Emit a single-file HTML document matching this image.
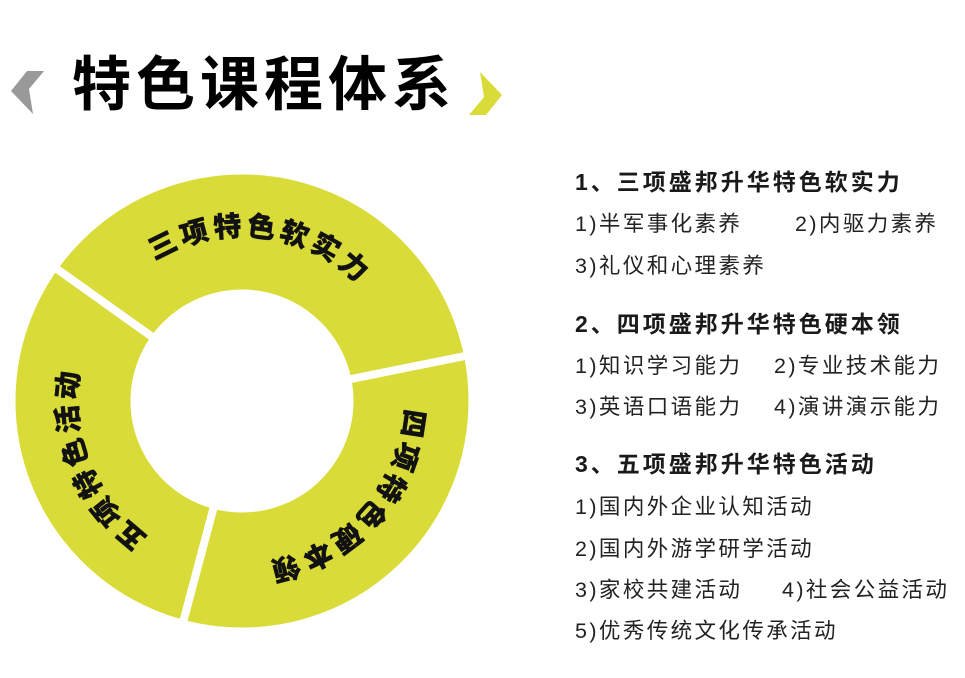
<!DOCTYPE html>
<html><head><meta charset="utf-8"><style>
body{margin:0;width:965px;height:678px;background:#fff;overflow:hidden;position:relative;font-family:"Liberation Sans","Noto Sans CJK SC",sans-serif;color:#1a1a1a}
.t{position:absolute;white-space:nowrap;line-height:1}
.h{font-size:23px;font-weight:bold;letter-spacing:3px}
.b{font-size:21.5px;letter-spacing:2.4px;color:#222}
</style></head><body>
<svg width="965" height="678" style="position:absolute;left:0;top:0">
<polygon points="27,71 44,71 29,89 33,114 11,91" fill="#999"/>
<polygon points="486,115 469,115 484,97 480,72 502,95" fill="#d9dc38"/>
<circle cx="242" cy="401" r="169" fill="none" stroke="#d9dc38" stroke-width="115"/>
<g stroke="#fff" stroke-width="8">
<line x1="242" y1="401" x2="43" y2="259"/>
<line x1="242" y1="401" x2="485" y2="352"/>
<line x1="242" y1="401" x2="177" y2="645"/>
</g>
<circle cx="242" cy="401" r="111" fill="#fff"/>
<defs>
<path id="a1" d="M 78.2 380.9 A 165 165 0 0 1 405.8 421.1"/>
<path id="a2" d="M 352.4 278.4 A 165 165 0 0 1 131.6 523.6"/>
<path id="a3" d="M 303.8 554.0 A 165 165 0 0 1 180.2 248.0"/>
</defs>
<g font-family="'Liberation Sans','Noto Sans CJK SC',sans-serif" font-weight="900" font-size="28" fill="#111" stroke="#111" stroke-width="0.4" letter-spacing="4">
<text><textPath href="#a1" startOffset="50%" text-anchor="middle">三项特色软实力</textPath></text>
<text><textPath href="#a2" startOffset="50%" text-anchor="middle">四项特色硬本领</textPath></text>
<text><textPath href="#a3" startOffset="50%" text-anchor="middle">五项特色活动</textPath></text>
</g>
</svg>
<div class="t" style="left:72px;top:56px;font-size:59px;font-weight:bold;letter-spacing:5px;color:#000">特色课程体系</div>
<div class="t h" style="left:575px;top:171px">1、三项盛邦升华特色软实力</div>
<div class="t b" style="left:575px;top:214px">1)半军事化素养</div>
<div class="t b" style="left:795px;top:214px">2)内驱力素养</div>
<div class="t b" style="left:575px;top:256px">3)礼仪和心理素养</div>
<div class="t h" style="left:575px;top:313px">2、四项盛邦升华特色硬本领</div>
<div class="t b" style="left:575px;top:356px">1)知识学习能力</div>
<div class="t b" style="left:774px;top:356px">2)专业技术能力</div>
<div class="t b" style="left:575px;top:397px">3)英语口语能力</div>
<div class="t b" style="left:774px;top:397px">4)演讲演示能力</div>
<div class="t h" style="left:575px;top:453px">3、五项盛邦升华特色活动</div>
<div class="t b" style="left:575px;top:497px">1)国内外企业认知活动</div>
<div class="t b" style="left:575px;top:539px">2)国内外游学研学活动</div>
<div class="t b" style="left:575px;top:580px">3)家校共建活动</div>
<div class="t b" style="left:782px;top:580px">4)社会公益活动</div>
<div class="t b" style="left:575px;top:621px">5)优秀传统文化传承活动</div>
</body></html>
